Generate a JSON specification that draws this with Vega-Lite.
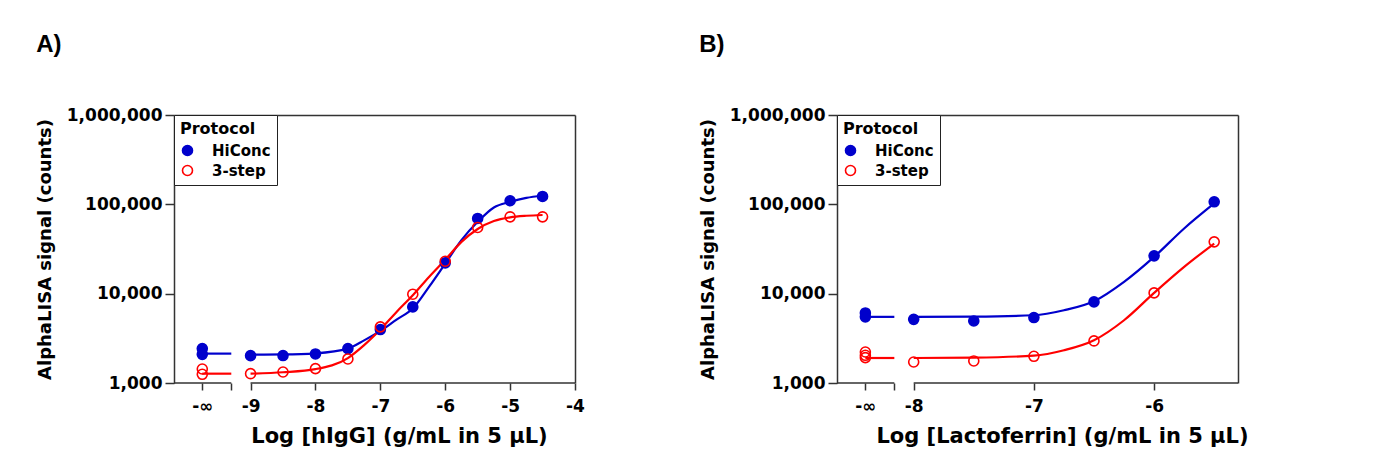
{
  "$schema": "https://vega.github.io/schema/vega-lite/v6.json",
  "background": "white",
  "padding": {"left": 36, "top": 33, "right": 5, "bottom": 5},
  "spacing": 114,
  "datasets": {
    "axisSeg": [
      {"panel": "A", "x": -10.18, "x2": -9.297},
      {"panel": "A", "x": -9, "x2": -4},
      {"panel": "B", "x": -8.638, "x2": -8.161},
      {"panel": "B", "x": -8, "x2": -5.302}
    ],
    "curve": [
      {"panel": "A", "protocol": "HiConc", "seg": "base", "x": -9.744, "y": 2133},
      {"panel": "A", "protocol": "HiConc", "seg": "base", "x": -9.297, "y": 2133},
      {"panel": "A", "protocol": "HiConc", "seg": "main", "x": -9, "y": 2080},
      {"panel": "A", "protocol": "HiConc", "seg": "main", "x": -8.5, "y": 2090},
      {"panel": "A", "protocol": "HiConc", "seg": "main", "x": -8, "y": 2150},
      {"panel": "A", "protocol": "HiConc", "seg": "main", "x": -7.5, "y": 2427},
      {"panel": "A", "protocol": "HiConc", "seg": "main", "x": -7.25, "y": 3000},
      {"panel": "A", "protocol": "HiConc", "seg": "main", "x": -7, "y": 3828},
      {"panel": "A", "protocol": "HiConc", "seg": "main", "x": -6.75, "y": 5130},
      {"panel": "A", "protocol": "HiConc", "seg": "main", "x": -6.5, "y": 6810},
      {"panel": "A", "protocol": "HiConc", "seg": "main", "x": -6.25, "y": 11900},
      {"panel": "A", "protocol": "HiConc", "seg": "main", "x": -6, "y": 21700},
      {"panel": "A", "protocol": "HiConc", "seg": "main", "x": -5.75, "y": 39700},
      {"panel": "A", "protocol": "HiConc", "seg": "main", "x": -5.5, "y": 63700},
      {"panel": "A", "protocol": "HiConc", "seg": "main", "x": -5.25, "y": 92300},
      {"panel": "A", "protocol": "HiConc", "seg": "main", "x": -5, "y": 106600},
      {"panel": "A", "protocol": "HiConc", "seg": "main", "x": -4.75, "y": 118000},
      {"panel": "A", "protocol": "HiConc", "seg": "main", "x": -4.5, "y": 124700},
      {"panel": "A", "protocol": "3-step", "seg": "base", "x": -9.744, "y": 1272},
      {"panel": "A", "protocol": "3-step", "seg": "base", "x": -9.297, "y": 1272},
      {"panel": "A", "protocol": "3-step", "seg": "main", "x": -9, "y": 1272},
      {"panel": "A", "protocol": "3-step", "seg": "main", "x": -8.5, "y": 1320},
      {"panel": "A", "protocol": "3-step", "seg": "main", "x": -8, "y": 1430},
      {"panel": "A", "protocol": "3-step", "seg": "main", "x": -7.5, "y": 1900},
      {"panel": "A", "protocol": "3-step", "seg": "main", "x": -7.25, "y": 2650},
      {"panel": "A", "protocol": "3-step", "seg": "main", "x": -7, "y": 3966},
      {"panel": "A", "protocol": "3-step", "seg": "main", "x": -6.75, "y": 6250},
      {"panel": "A", "protocol": "3-step", "seg": "main", "x": -6.5, "y": 9600},
      {"panel": "A", "protocol": "3-step", "seg": "main", "x": -6.25, "y": 15400},
      {"panel": "A", "protocol": "3-step", "seg": "main", "x": -6, "y": 24000},
      {"panel": "A", "protocol": "3-step", "seg": "main", "x": -5.75, "y": 38000},
      {"panel": "A", "protocol": "3-step", "seg": "main", "x": -5.5, "y": 53000},
      {"panel": "A", "protocol": "3-step", "seg": "main", "x": -5.25, "y": 65000},
      {"panel": "A", "protocol": "3-step", "seg": "main", "x": -5, "y": 71500},
      {"panel": "A", "protocol": "3-step", "seg": "main", "x": -4.75, "y": 74500},
      {"panel": "A", "protocol": "3-step", "seg": "main", "x": -4.5, "y": 76000},
      {"panel": "B", "protocol": "HiConc", "seg": "base", "x": -8.402, "y": 5500},
      {"panel": "B", "protocol": "HiConc", "seg": "base", "x": -8.161, "y": 5500},
      {"panel": "B", "protocol": "HiConc", "seg": "main", "x": -8, "y": 5500},
      {"panel": "B", "protocol": "HiConc", "seg": "main", "x": -7.5, "y": 5530},
      {"panel": "B", "protocol": "HiConc", "seg": "main", "x": -7, "y": 5730},
      {"panel": "B", "protocol": "HiConc", "seg": "main", "x": -6.75, "y": 6520},
      {"panel": "B", "protocol": "HiConc", "seg": "main", "x": -6.5, "y": 8220},
      {"panel": "B", "protocol": "HiConc", "seg": "main", "x": -6.25, "y": 13560},
      {"panel": "B", "protocol": "HiConc", "seg": "main", "x": -6, "y": 25800},
      {"panel": "B", "protocol": "HiConc", "seg": "main", "x": -5.75, "y": 53700},
      {"panel": "B", "protocol": "HiConc", "seg": "main", "x": -5.5, "y": 102400},
      {"panel": "B", "protocol": "3-step", "seg": "base", "x": -8.402, "y": 1905},
      {"panel": "B", "protocol": "3-step", "seg": "base", "x": -8.161, "y": 1905},
      {"panel": "B", "protocol": "3-step", "seg": "main", "x": -8, "y": 1905},
      {"panel": "B", "protocol": "3-step", "seg": "main", "x": -7.5, "y": 1925},
      {"panel": "B", "protocol": "3-step", "seg": "main", "x": -7, "y": 2020},
      {"panel": "B", "protocol": "3-step", "seg": "main", "x": -6.75, "y": 2323},
      {"panel": "B", "protocol": "3-step", "seg": "main", "x": -6.5, "y": 3008},
      {"panel": "B", "protocol": "3-step", "seg": "main", "x": -6.25, "y": 5040},
      {"panel": "B", "protocol": "3-step", "seg": "main", "x": -6, "y": 10200},
      {"panel": "B", "protocol": "3-step", "seg": "main", "x": -5.75, "y": 19950},
      {"panel": "B", "protocol": "3-step", "seg": "main", "x": -5.5, "y": 36400}
    ],
    "pts": [
      {"panel": "A", "protocol": "HiConc", "x": -9.744, "y": 2427},
      {"panel": "A", "protocol": "HiConc", "x": -9.744, "y": 2094},
      {"panel": "A", "protocol": "HiConc", "x": -9, "y": 2024},
      {"panel": "A", "protocol": "HiConc", "x": -8.5, "y": 2030},
      {"panel": "A", "protocol": "HiConc", "x": -8, "y": 2113},
      {"panel": "A", "protocol": "HiConc", "x": -7.5, "y": 2427},
      {"panel": "A", "protocol": "HiConc", "x": -7, "y": 3966},
      {"panel": "A", "protocol": "HiConc", "x": -6.5, "y": 7113},
      {"panel": "A", "protocol": "HiConc", "x": -6, "y": 22140},
      {"panel": "A", "protocol": "HiConc", "x": -5.5, "y": 69500},
      {"panel": "A", "protocol": "HiConc", "x": -5, "y": 109700},
      {"panel": "A", "protocol": "HiConc", "x": -4.5, "y": 122500},
      {"panel": "A", "protocol": "3-step", "x": -9.744, "y": 1435},
      {"panel": "A", "protocol": "3-step", "x": -9.744, "y": 1251},
      {"panel": "A", "protocol": "3-step", "x": -9, "y": 1272},
      {"panel": "A", "protocol": "3-step", "x": -8.5, "y": 1328},
      {"panel": "A", "protocol": "3-step", "x": -8, "y": 1448},
      {"panel": "A", "protocol": "3-step", "x": -7.5, "y": 1858},
      {"panel": "A", "protocol": "3-step", "x": -7, "y": 4247},
      {"panel": "A", "protocol": "3-step", "x": -6.5, "y": 9863},
      {"panel": "A", "protocol": "3-step", "x": -6, "y": 23070},
      {"panel": "A", "protocol": "3-step", "x": -5.5, "y": 55080},
      {"panel": "A", "protocol": "3-step", "x": -5, "y": 72470},
      {"panel": "A", "protocol": "3-step", "x": -4.5, "y": 72470},
      {"panel": "B", "protocol": "HiConc", "x": -8.402, "y": 6080},
      {"panel": "B", "protocol": "HiConc", "x": -8.402, "y": 5500},
      {"panel": "B", "protocol": "HiConc", "x": -8, "y": 5160},
      {"panel": "B", "protocol": "HiConc", "x": -7.5, "y": 4950},
      {"panel": "B", "protocol": "HiConc", "x": -7, "y": 5400},
      {"panel": "B", "protocol": "HiConc", "x": -6.5, "y": 8090},
      {"panel": "B", "protocol": "HiConc", "x": -6, "y": 26500},
      {"panel": "B", "protocol": "HiConc", "x": -5.5, "y": 106700},
      {"panel": "B", "protocol": "3-step", "x": -8.402, "y": 2224},
      {"panel": "B", "protocol": "3-step", "x": -8.402, "y": 2042},
      {"panel": "B", "protocol": "3-step", "x": -8.402, "y": 1923},
      {"panel": "B", "protocol": "3-step", "x": -8, "y": 1719},
      {"panel": "B", "protocol": "3-step", "x": -7.5, "y": 1765},
      {"panel": "B", "protocol": "3-step", "x": -7, "y": 1991},
      {"panel": "B", "protocol": "3-step", "x": -6.5, "y": 2958},
      {"panel": "B", "protocol": "3-step", "x": -6, "y": 10200},
      {"panel": "B", "protocol": "3-step", "x": -5.5, "y": 38000}
    ]
  },
  "hconcat": [
    {
      "title": {"text": "A)"},
      "width": 401,
      "height": 268,
      "resolve": {"axis": {"x": "independent", "y": "independent"}},
      "layer": [
        {
          "data": {"name": "axisSeg"},
          "transform": [{"filter": "datum.panel == 'A'"}],
          "mark": {"type": "rule", "color": "#333333", "strokeWidth": 1.5},
          "encoding": {
            "x": {"field": "x", "type": "quantitative", "axis": null},
            "x2": {"field": "x2"},
            "y": {"datum": 1000, "type": "quantitative", "axis": null}
          }
        },
        {
          "data": {"name": "curve"},
          "transform": [{"filter": "datum.panel == 'A'"}],
          "mark": {"type": "line", "interpolate": "monotone", "strokeWidth": 2.2},
          "encoding": {
            "x": {
              "field": "x", "type": "quantitative",
              "scale": {"domain": [-10.18, -4], "nice": false, "zero": false},
              "axis": {
                "orient": "bottom", "domain": false,
                "values": [-9.744, -9.297, -9, -8, -7, -6, -5, -4],
                "labelExpr": "datum.value < -9.5 ? '-∞' : (datum.value < -9.1 ? '' : '' + datum.value)",
                "tickSize": 7, "labelPadding": 8, "labelFontSize": 17,
                "title": "Log [hIgG] (g/mL in 5 µL)", "titleFontSize": 21,
                "titlePadding": 11, "titleX": 225, "titleAlign": "center"
              }
            },
            "y": {
              "field": "y", "type": "quantitative",
              "scale": {"type": "log", "domain": [1000, 1000000], "nice": false},
              "axis": {
                "orient": "left", "values": [1000, 10000, 100000, 1000000], "format": ",",
                "tickSize": 9, "labelPadding": 3, "labelFontSize": 17,
                "title": "AlphaLISA signal (counts)", "titleFontSize": 18, "titlePadding": 12
              }
            },
            "stroke": {
              "field": "protocol", "type": "nominal",
              "scale": {"domain": ["HiConc", "3-step"], "range": ["#0000cc", "#ff0000"]},
              "legend": {"title": "Protocol", "orient": "top-left", "symbolType": "circle", "labelExpr": "datum.label + '\u00a0\u00a0\u00a0\u00a0\u00a0'"}
            },
            "detail": {"field": "seg"}
          }
        },
        {
          "data": {"name": "pts"},
          "transform": [{"filter": "datum.panel == 'A'"}],
          "mark": {"type": "point", "shape": "circle", "size": 100, "strokeWidth": 1.6, "opacity": 1},
          "encoding": {
            "x": {"field": "x", "type": "quantitative",
              "axis": {"orient": "top", "labels": false, "ticks": false, "domain": true, "title": null}},
            "y": {"field": "y", "type": "quantitative",
              "axis": {"orient": "right", "labels": false, "ticks": false, "domain": true, "title": null}},
            "stroke": {
              "field": "protocol", "type": "nominal",
              "scale": {"domain": ["HiConc", "3-step"], "range": ["#0000cc", "#ff0000"]},
              "legend": {"title": "Protocol", "orient": "top-left", "symbolType": "circle", "labelExpr": "datum.label + '\u00a0\u00a0\u00a0\u00a0\u00a0'"}
            },
            "fill": {
              "field": "protocol", "type": "nominal",
              "scale": {"domain": ["HiConc", "3-step"], "range": ["#0000cc", "transparent"]},
              "legend": {"title": "Protocol", "orient": "top-left", "symbolType": "circle", "labelExpr": "datum.label + '\u00a0\u00a0\u00a0\u00a0\u00a0'"}
            }
          }
        }
      ]
    },
    {
      "title": {"text": "B)"},
      "width": 401,
      "height": 268,
      "resolve": {"axis": {"x": "independent", "y": "independent"}},
      "layer": [
        {
          "data": {"name": "axisSeg"},
          "transform": [{"filter": "datum.panel == 'B'"}],
          "mark": {"type": "rule", "color": "#333333", "strokeWidth": 1.5},
          "encoding": {
            "x": {"field": "x", "type": "quantitative", "axis": null},
            "x2": {"field": "x2"},
            "y": {"datum": 1000, "type": "quantitative", "axis": null}
          }
        },
        {
          "data": {"name": "curve"},
          "transform": [{"filter": "datum.panel == 'B'"}],
          "mark": {"type": "line", "interpolate": "monotone", "strokeWidth": 2.2},
          "encoding": {
            "x": {
              "field": "x", "type": "quantitative",
              "scale": {"domain": [-8.638, -5.302], "nice": false, "zero": false},
              "axis": {
                "orient": "bottom", "domain": false,
                "values": [-8.402, -8.161, -8, -7, -6],
                "labelExpr": "datum.value < -8.3 ? '-∞' : (datum.value < -8.05 ? '' : '' + datum.value)",
                "tickSize": 7, "labelPadding": 8, "labelFontSize": 17,
                "title": "Log [Lactoferrin] (g/mL in 5 µL)", "titleFontSize": 21,
                "titlePadding": 11, "titleX": 225, "titleAlign": "center"
              }
            },
            "y": {
              "field": "y", "type": "quantitative",
              "scale": {"type": "log", "domain": [1000, 1000000], "nice": false},
              "axis": {
                "orient": "left", "values": [1000, 10000, 100000, 1000000], "format": ",",
                "tickSize": 9, "labelPadding": 3, "labelFontSize": 17,
                "title": "AlphaLISA signal (counts)", "titleFontSize": 18, "titlePadding": 12
              }
            },
            "stroke": {
              "field": "protocol", "type": "nominal",
              "scale": {"domain": ["HiConc", "3-step"], "range": ["#0000cc", "#ff0000"]},
              "legend": {"title": "Protocol", "orient": "top-left", "symbolType": "circle", "labelExpr": "datum.label + '\u00a0\u00a0\u00a0\u00a0\u00a0'"}
            },
            "detail": {"field": "seg"}
          }
        },
        {
          "data": {"name": "pts"},
          "transform": [{"filter": "datum.panel == 'B'"}],
          "mark": {"type": "point", "shape": "circle", "size": 100, "strokeWidth": 1.6, "opacity": 1},
          "encoding": {
            "x": {"field": "x", "type": "quantitative",
              "axis": {"orient": "top", "labels": false, "ticks": false, "domain": true, "title": null}},
            "y": {"field": "y", "type": "quantitative",
              "axis": {"orient": "right", "labels": false, "ticks": false, "domain": true, "title": null}},
            "stroke": {
              "field": "protocol", "type": "nominal",
              "scale": {"domain": ["HiConc", "3-step"], "range": ["#0000cc", "#ff0000"]},
              "legend": {"title": "Protocol", "orient": "top-left", "symbolType": "circle", "labelExpr": "datum.label + '\u00a0\u00a0\u00a0\u00a0\u00a0'"}
            },
            "fill": {
              "field": "protocol", "type": "nominal",
              "scale": {"domain": ["HiConc", "3-step"], "range": ["#0000cc", "transparent"]},
              "legend": {"title": "Protocol", "orient": "top-left", "symbolType": "circle", "labelExpr": "datum.label + '\u00a0\u00a0\u00a0\u00a0\u00a0'"}
            }
          }
        }
      ]
    }
  ],
  "resolve": {"scale": {"stroke": "independent", "fill": "independent"}, "legend": {"stroke": "independent", "fill": "independent"}},
  "config": {
    "view": {"stroke": null},
    "font": "DejaVu Sans",
    "axis": {
      "labelFont": "DejaVu Sans", "labelFontWeight": "bold", "labelColor": "#000000",
      "titleFont": "DejaVu Sans", "titleFontWeight": "bold", "titleColor": "#000000",
      "domainColor": "#333333", "domainWidth": 1.5, "tickColor": "#333333", "tickWidth": 1.5,
      "grid": false, "labelFlush": false, "labelOverlap": false
    },
    "legend": {
      "offset": 0, "padding": 6, "strokeColor": "#222222", "fillColor": "#ffffff",
      "titleFont": "DejaVu Sans", "titleFontSize": 16, "titleFontWeight": "bold", "titleColor": "#000000",
      "titlePadding": 6,
      "labelFont": "DejaVu Sans", "labelFontSize": 15, "labelFontWeight": "bold", "labelColor": "#000000",
      "labelOffset": 17, "symbolSize": 100, "symbolStrokeWidth": 1.6, "symbolOpacity": 1,
      "symbolType": "circle", "rowPadding": 3
    },
    "title": {
      "font": "Liberation Sans", "fontSize": 24, "fontWeight": "bold", "color": "#000000",
      "anchor": "start", "frame": "bounds", "offset": 49, "baseline": "alphabetic"
    }
  }
}
